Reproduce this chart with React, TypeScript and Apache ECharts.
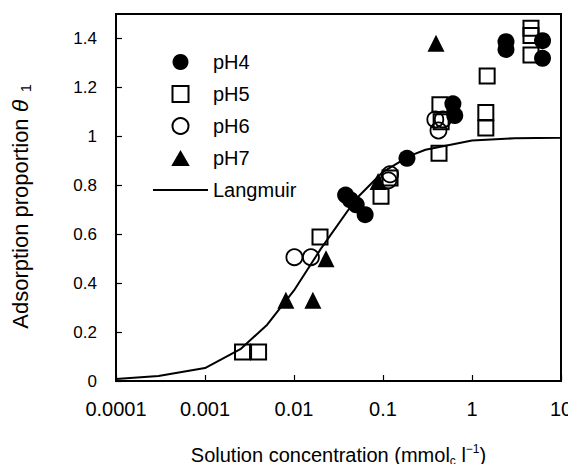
import React, { useEffect, useRef } from "react";
import * as echarts from "echarts";

const seriesNames = ["pH4", "pH5", "pH6", "pH7", "Langmuir"];
const xTickValues = [0.0001, 0.001, 0.01, 0.1, 1, 10];

const pH4: [number, number][] = [
  [0.038, 0.76], [0.043, 0.74], [0.05, 0.72], [0.063, 0.68], [0.186, 0.91],
  [0.61, 1.133], [0.64, 1.085], [2.41, 1.387], [2.41, 1.355], [6.2, 1.391], [6.2, 1.319],
];
const pH5: [number, number][] = [
  [0.00264, 0.119], [0.004, 0.119], [0.0196, 0.589], [0.095, 0.755], [0.12, 0.83],
  [0.426, 0.931], [0.436, 1.129], [0.45, 1.06], [1.43, 1.097], [1.43, 1.034],
  [1.48, 1.247], [4.6, 1.442], [4.6, 1.412], [4.6, 1.332],
];
const pH6: [number, number][] = [
  [0.0101, 0.506], [0.0155, 0.506], [0.115, 0.82], [0.12, 0.845],
  [0.387, 1.069], [0.47, 1.069], [0.42, 1.024],
];
const pH7: [number, number][] = [
  [0.0081, 0.33], [0.0163, 0.33], [0.0229, 0.5], [0.088, 0.815], [0.394, 1.38],
];
const langmuir: [number, number][] = [
  [0.0001, 0.008], [0.0003, 0.02], [0.001, 0.053], [0.0025, 0.13], [0.005, 0.23],
  [0.01, 0.37], [0.02, 0.54], [0.05, 0.745], [0.1, 0.855], [0.2, 0.92], [0.3, 0.945],
  [1, 0.983], [3, 0.992], [10, 0.994], [15, 0.995],
];

const FONT = "'Liberation Sans', Arial, Helvetica, sans-serif";

export default function App() {
  const ref = useRef<HTMLDivElement>(null);
  useEffect(() => {
    if (!ref.current) return;
    const chart = echarts.init(ref.current, undefined, { renderer: "svg" });
    chart.setOption({
      animation: false,
      backgroundColor: "#fff",
      textStyle: { fontFamily: FONT, color: "#000" },
      grid: {
        left: 116, right: 15, top: 14, bottom: 86,
        show: true, borderColor: "#000", borderWidth: 2, backgroundColor: "transparent",
      },
      legend: {
        data: [
          { name: seriesNames[0], icon: "circle" },
          { name: seriesNames[1], icon: "path://M0,0H10V10H0Z" },
          { name: seriesNames[2], icon: "circle" },
          { name: seriesNames[3], icon: "path://M5,0L10,8.66L0,8.66Z" },
          { name: seriesNames[4], itemStyle: { opacity: 0 } },
        ],
        orient: "vertical",
        left: 152,
        top: 52,
        itemWidth: 55,
        itemHeight: 16,
        itemGap: 12,
        padding: 0,
        symbolKeepAspect: true,
        textStyle: { fontSize: 20, color: "#000", fontFamily: FONT },
      },
      xAxis: {
        type: "log",
        logBase: 10,
        min: xTickValues[0],
        max: xTickValues[xTickValues.length - 1],
        name: "{t|Solution concentration (mmol}{sub|c}{t| l}{sup|−1}{t|)}",
        nameLocation: "middle",
        nameGap: 62,
        nameTextStyle: {
          rich: {
            t: { fontSize: 20, lineHeight: 24, fontFamily: FONT, color: "#000" },
            sub: { fontSize: 12, lineHeight: 13, verticalAlign: "bottom", fontFamily: FONT, color: "#000" },
            sup: { fontSize: 12, lineHeight: 13, verticalAlign: "top", fontFamily: FONT, color: "#000" },
          },
        },
        axisLine: { show: true, lineStyle: { color: "#000", width: 2 } },
        axisTick: { show: true, inside: true, length: 6, lineStyle: { color: "#000", width: 1.2 } },
        minorTick: { show: false },
        splitLine: { show: false },
        axisLabel: {
          margin: 18,
          fontSize: 20,
          color: "#000",
          fontFamily: FONT,
          formatter: (v: number) => String(Number(v.toPrecision(6))),
        },
      },
      yAxis: {
        type: "value",
        min: 0,
        max: 1.5,
        interval: 0.2,
        name: "{t|Adsorption proportion }{i|θ}{sub|  1}{pad|}",
        nameLocation: "middle",
        nameGap: 83,
        nameRotate: 90,
        nameTextStyle: {
          rich: {
            t: { fontSize: 22, lineHeight: 26, fontFamily: FONT, color: "#000" },
            i: { fontSize: 23, lineHeight: 26, fontFamily: FONT, fontStyle: "italic", color: "#000" },
            sub: { fontSize: 14, lineHeight: 15, verticalAlign: "bottom", fontFamily: FONT, color: "#000" },
            pad: { width: 18 },
          },
        },
        axisLine: { show: true, lineStyle: { color: "#000", width: 2 } },
        axisTick: { show: true, inside: true, length: 6, lineStyle: { color: "#000", width: 1.2 } },
        splitLine: { show: false },
        axisLabel: {
          margin: 19,
          fontSize: 17,
          color: "#000",
          fontFamily: FONT,
          showMaxLabel: false,
        },
      },
      series: [
        {
          name: seriesNames[4],
          type: "line",
          data: langmuir,
          symbol: "none",
          clip: false,
          itemStyle: { color: "#000" },
          lineStyle: { color: "#000", width: 2 },
          z: 1,
        },
        {
          name: seriesNames[1],
          type: "scatter",
          data: pH5,
          symbol: "rect",
          symbolSize: 15,
          itemStyle: { color: "transparent", borderColor: "#000", borderWidth: 2, opacity: 1 },
          z: 2,
        },
        {
          name: seriesNames[2],
          type: "scatter",
          data: pH6,
          symbol: "circle",
          symbolSize: 16,
          itemStyle: { color: "transparent", borderColor: "#000", borderWidth: 1.8, opacity: 1 },
          z: 3,
        },
        {
          name: seriesNames[3],
          type: "scatter",
          data: pH7,
          symbol: "triangle",
          symbolSize: 17,
          itemStyle: { color: "#000", opacity: 1 },
          z: 4,
        },
        {
          name: seriesNames[0],
          type: "scatter",
          data: pH4,
          symbol: "circle",
          symbolSize: 17,
          itemStyle: { color: "#000", opacity: 1 },
          z: 5,
        },
      ],
    });
    return () => chart.dispose();
  }, []);
  return <div ref={ref} style={{ width: 576, height: 472, margin: -8 }} />;
}
